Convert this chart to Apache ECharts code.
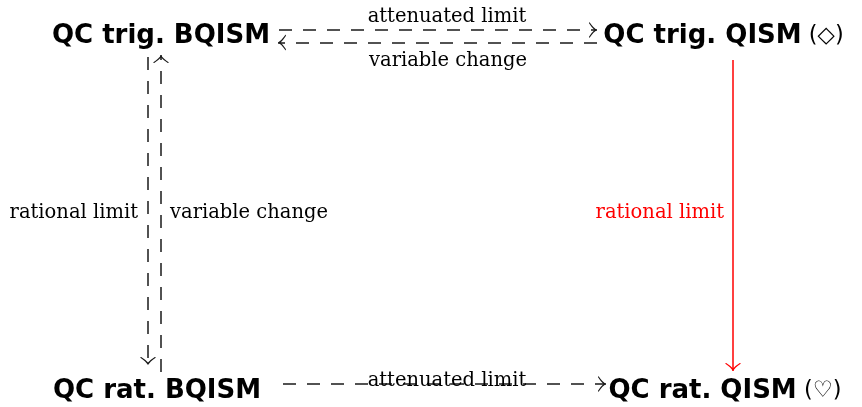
<!DOCTYPE html>
<html><head><meta charset="utf-8">
<script src="https://cdn.jsdelivr.net/npm/echarts@6/dist/echarts.min.js"></script>
<style>html,body{margin:0;padding:0;background:#fff}#c{width:862px;height:407px}</style>
</head><body><div id="c"></div>
<script>
// Diagram space: x 0..862, y 0..407 (y grows downward)
const nodeNames  = ['QC trig. BQISM', 'QC trig. QISM', 'QC rat. BQISM', 'QC rat. QISM'];
const nodeSuffix = ['', '(◇)', '', '(♡)'];
const nodeX = [161, 723.5, 157, 725];
const nodeY = [36, 36, 391.5, 391.5];

// arrows: start point -> tip point
const arrowStart = [[279, 30], [597, 42.5], [148, 57], [161, 372], [733, 60], [283, 384]];
const arrowEnd   = [[597, 30], [278, 42.5], [148, 365], [161, 55], [733, 371], [606, 384]];
const arrowDashed = [true, true, true, true, false, true];
const arrowColor  = ['#1a1a1a', '#1a1a1a', '#1a1a1a', '#1a1a1a', '#ff0000', '#1a1a1a'];

// arrow labels
const labelText  = ['attenuated limit', 'variable change', 'rational limit', 'variable change', 'rational limit', 'attenuated limit'];
const labelX     = [447, 448, 138, 170, 724, 447];
const labelY     = [16.5, 60.5, 212.5, 212.5, 212.5, 380.5];
const labelAlign = ['center', 'center', 'right', 'left', 'right', 'center'];
const labelColor = ['#000', '#000', '#000', '#000', '#ff0000', '#000'];

// open LaTeX-like arrow tip; tiny extra sub-path ahead of the tip puts the tip at the symbol centre
const tipPath = 'path://M5,0 Q6,4 9.6,9.5 L8.9,10 Q6.2,6.2 5,3.2 Q3.8,6.2 1.1,10 L0.4,9.5 Q4,4 5,0 Z M4.98,-10 L5.02,-10 L5,-9.98 Z';

const chart = echarts.init(document.getElementById('c'), null, {renderer: 'canvas'});

const nodeData = nodeNames.map((n, i) => ({
  value: [nodeX[i], nodeY[i]],
  label: {
    show: true, position: [0, 0], align: 'center', verticalAlign: 'middle',
    textBorderWidth: 0, textShadowBlur: 0,
    formatter: nodeSuffix[i] ? '{b|' + n + '}{s| ' + nodeSuffix[i] + '}' : '{b|' + n + '}',
    rich: {
      b: {fontFamily: 'DejaVu Sans', fontWeight: 'bold', fontSize: 26, color: '#000', textBorderWidth: 0},
      s: {fontFamily: 'DejaVu Sans', fontWeight: 'normal', fontSize: 22.5, color: '#000', textBorderWidth: 0}
    }
  }
}));

const lineData = arrowStart.map((s, i) => ({
  coords: [s, arrowEnd[i]],
  lineStyle: {color: arrowColor[i], width: 1.5, type: arrowDashed[i] ? [13, 11] : 'solid', opacity: 1}
}));

const labelData = labelText.map((t, i) => ({
  value: [labelX[i], labelY[i]],
  label: {
    show: true, position: [0, 0], align: labelAlign[i], verticalAlign: 'middle',
    textBorderWidth: 0, textShadowBlur: 0,
    formatter: t, fontFamily: 'DejaVu Serif', fontSize: 19.5, color: labelColor[i]
  }
}));

chart.setOption({
  animation: false,
  backgroundColor: '#fff',
  grid: {left: 0, right: 0, top: 0, bottom: 0},
  xAxis: {type: 'value', min: 0, max: 862, show: false},
  yAxis: {type: 'value', min: 0, max: 407, inverse: true, show: false},
  series: [
    {
      type: 'lines', coordinateSystem: 'cartesian2d', polyline: false,
      symbol: ['none', tipPath], symbolSize: [8, 16],
      silent: true, data: lineData
    },
    {type: 'scatter', symbolSize: 0, silent: true, itemStyle: {opacity: 1}, data: nodeData},
    {type: 'scatter', symbolSize: 0, silent: true, itemStyle: {opacity: 1}, data: labelData}
  ]
});
</script></body></html>
